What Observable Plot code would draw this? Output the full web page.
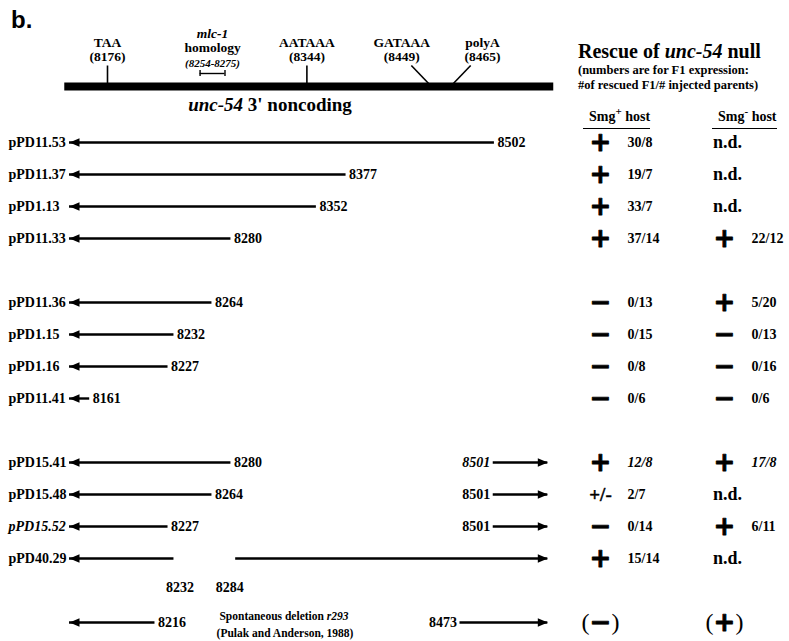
<!DOCTYPE html>
<html><head><meta charset="utf-8">
<script src="https://cdn.jsdelivr.net/npm/d3@7"></script>
<script src="https://cdn.jsdelivr.net/npm/@observablehq/plot@0.6"></script>
<style>
body{margin:0;background:#fff;}
#wrap{position:relative;width:789px;height:641px;overflow:hidden;font-family:"Liberation Serif","Times New Roman",serif;font-weight:bold;color:#000;}
.abs{position:absolute;white-space:nowrap;line-height:1;}
#wrap svg{position:absolute;}
.ul{border-bottom:1.3px solid #000;padding-bottom:4px;}
</style></head><body>
<div id="wrap"></div>
<script>
// ---------- data ----------
const siteNames = ["TAA", "AATAAA", "GATAAA", "polyA"];
const sitePositions = [8176, 8344, 8449, 8465];
const siteLabelCenters = [8176, 8344, 8424, 8492];
const siteLineTops = [8176, 8344, 8432, 8482];
const mlcRange = [8254, 8275];
const geneSpan = [8140, 8552];
const arrowLeftTip = 8144;
const arrowRightTip = 8547;

const constructs = ["pPD11.53","pPD11.37","pPD1.13","pPD11.33","pPD11.36","pPD1.15","pPD1.16","pPD11.41","pPD15.41","pPD15.48","pPD15.52","pPD40.29","r293"];
const groups = [1,1,1,1,2,2,2,2,3,3,3,3,4];
const leftArrowEnds = [8502,8377,8352,8280,8264,8232,8227,8161,8280,8264,8227,8232,8216];
const rightArrowStarts = [null,null,null,null,null,null,null,null,8501,8501,8501,8284,8473];
const labelsBelow = ["pPD40.29"];
const italicLabels = ["pPD15.52"];
const italicRightLabels = ["pPD15.41"];
const italicCounts = ["pPD15.41"];

const hosts = ["Smg+", "Smg-"];
const smgPlusResult = ["+","+","+","+","−","−","−","−","+","+/-","−","+","(−)"];
const smgPlusCounts = ["30/8","19/7","33/7","37/14","0/13","0/15","0/8","0/6","12/8","2/7","0/14","15/14",""];
const smgMinusResult = ["n.d.","n.d.","n.d.","+","+","−","−","−","+","n.d.","+","n.d.","(+)"];
const smgMinusCounts = ["","","","22/12","5/20","0/13","0/16","0/6","17/8","","6/11","",""];

// ---------- derived tables ----------
const yDomain = [];
constructs.forEach((c, i) => {
  if (i > 0 && groups[i] !== groups[i - 1]) yDomain.push("gap" + groups[i]);
  yDomain.push(c);
});
const rows = constructs.map((c, i) => ({
  key: c, label: c === "r293" ? "" : c,
  leftEnd: leftArrowEnds[i], rightStart: rightArrowStarts[i],
  below: labelsBelow.includes(c)
}));
const sites = siteNames.map((n, i) => ({name: n, pos: sitePositions[i], lab: siteLabelCenters[i], top: siteLineTops[i]}));
const cells = [];
constructs.forEach((c, i) => {
  cells.push({key: c, host: hosts[0], res: smgPlusResult[i], count: smgPlusCounts[i]});
  cells.push({key: c, host: hosts[1], res: smgMinusResult[i], count: smgMinusCounts[i]});
});
cells.forEach(d => {
  d.paren = d.res.startsWith("(");
  d.sym = d.paren ? d.res.slice(1, -1) : d.res;
});

const xScale = {domain: [8176, 8465], range: [107, 450]};
const headLeft = {draw(ctx) { ctx.moveTo(0, 0); ctx.lineTo(10, -4.2); ctx.lineTo(10, 4.2); ctx.closePath(); }};
const headRight = {draw(ctx) { ctx.moveTo(0, 0); ctx.lineTo(-10, -4.2); ctx.lineTo(-10, 4.2); ctx.closePath(); }};
const baseStyle = {fontFamily: "Liberation Serif", fontWeight: "bold", background: "transparent", overflow: "visible"};
const wrap = document.getElementById("wrap");

// ---------- header plot ----------
const header = Plot.plot({
  width: 560, height: 125, margin: 0,
  x: {...xScale, axis: null},
  y: {domain: [0, 1], range: [86, 65], axis: null},
  style: baseStyle,
  marks: [
    Plot.ruleY([0], {x1: geneSpan[0], x2: geneSpan[1], strokeWidth: 8, stroke: "black"}),
    Plot.link(sites, {x1: "top", x2: "pos", y1: 1, y2: 0, stroke: "black", strokeWidth: 1.6}),
    Plot.text(sites, {x: "lab", y: 1, text: "name", lineAnchor: "bottom", dy: -19, fontSize: 13.5, fontWeight: "bold", fill: "black"}),
    Plot.text(sites, {x: "lab", y: 1, text: d => "(" + d.pos + ")", lineAnchor: "bottom", dy: -5, fontSize: 13.5, fontWeight: "bold", fill: "black"}),
    Plot.text([mlcRange], {x: d => (d[0] + d[1]) / 2, y: 1, text: () => "mlc-1", lineAnchor: "bottom", dy: -28, fontSize: 13.5, fontStyle: "italic", fontWeight: "bold", fill: "black"}),
    Plot.text([mlcRange], {x: d => (d[0] + d[1]) / 2, y: 1, text: () => "homology", lineAnchor: "bottom", dy: -14, fontSize: 13.5, fontWeight: "bold", fill: "black"}),
    Plot.text([mlcRange], {x: d => (d[0] + d[1]) / 2, y: 1, text: d => "(" + d[0] + "-" + d[1] + ")", lineAnchor: "bottom", dy: 1, fontSize: 11, fontStyle: "italic", fontWeight: "bold", fill: "black"}),
    Plot.ruleY([mlcRange], {x1: d => d[0], x2: d => d[1], y: 1, dy: 8, stroke: "black", strokeWidth: 1.4}),
    Plot.ruleX(mlcRange, {x: d => d, y1: 1, y2: 1, dy: 8, insetTop: -3, insetBottom: -3, stroke: "black", strokeWidth: 1.4})
  ]
});
header.style.left = "0px"; header.style.top = "0px";
wrap.appendChild(header);

// ---------- construct rows plot ----------
const rowTop = 125;
const yScale = {type: "point", domain: yDomain, range: [137 - rowTop, 627 - rowTop], padding: 0, axis: null};
const withRight = rows.filter(d => d.rightStart != null);
const diagram = Plot.plot({
  width: 560, height: 516, margin: 0,
  x: {...xScale, axis: null},
  y: yScale,
  style: baseStyle,
  marks: [
    Plot.ruleY(rows, {y: "key", x1: arrowLeftTip, x2: "leftEnd", stroke: "black", strokeWidth: 2.4}),
    Plot.dot(rows, {y: "key", x: arrowLeftTip, symbol: headLeft, fill: "black", stroke: "none"}),
    Plot.ruleY(withRight, {y: "key", x1: "rightStart", x2: arrowRightTip, stroke: "black", strokeWidth: 2.4}),
    Plot.dot(withRight, {y: "key", x: arrowRightTip, symbol: headRight, fill: "black", stroke: "none"}),
    // construct names
    Plot.text(rows.filter(d => d.label && !italicLabels.includes(d.key)), {y: "key", text: "label", frameAnchor: "left", textAnchor: "start", dx: 8, fontSize: 14, fontWeight: "bold", fill: "black"}),
    Plot.text(rows.filter(d => italicLabels.includes(d.key)), {y: "key", text: "label", frameAnchor: "left", textAnchor: "start", dx: 8, fontSize: 14, fontWeight: "bold", fontStyle: "italic", fill: "black"}),
    // end labels
    Plot.text(rows.filter(d => !d.below), {y: "key", x: "leftEnd", text: d => String(d.leftEnd), textAnchor: "start", dx: 3, fontSize: 14, fontWeight: "bold", fill: "black"}),
    Plot.text(rows.filter(d => d.below), {y: "key", x: "leftEnd", text: d => String(d.leftEnd), textAnchor: "middle", dx: 6, dy: 29, fontSize: 14, fontWeight: "bold", fill: "black"}),
    Plot.text(withRight.filter(d => !d.below && !italicRightLabels.includes(d.key)), {y: "key", x: "rightStart", text: d => String(d.rightStart), textAnchor: "end", dx: -3, fontSize: 14, fontWeight: "bold", fill: "black"}),
    Plot.text(withRight.filter(d => italicRightLabels.includes(d.key)), {y: "key", x: "rightStart", text: d => String(d.rightStart), textAnchor: "end", dx: -3, fontSize: 14, fontWeight: "bold", fontStyle: "italic", fill: "black"}),
    Plot.text(withRight.filter(d => d.below), {y: "key", x: "rightStart", text: d => String(d.rightStart), textAnchor: "middle", dx: -6, dy: 29, fontSize: 14, fontWeight: "bold", fill: "black"})
  ]
});
diagram.style.left = "0px"; diagram.style.top = rowTop + "px";
wrap.appendChild(diagram);

// ---------- results table plot ----------
const tableLeft = 560;
const symCells = cells.filter(d => d.sym === "+" || d.sym === "−");
const table = Plot.plot({
  width: 229, height: 516, margin: 0,
  x: {type: "point", domain: hosts, range: [600 - tableLeft, 724 - tableLeft], padding: 0, axis: null},
  y: yScale,
  style: baseStyle,
  marks: [
    Plot.text(symCells, {x: "host", y: "key", text: "sym", fontFamily: "DejaVu Sans", fontWeight: "bold", fontSize: 26, fill: "black", stroke: "black", strokeWidth: 0.8}),
    Plot.text(cells.filter(d => d.paren), {x: "host", y: "key", text: () => "(", dx: -15, fontSize: 24, fontWeight: "normal", fill: "black"}),
    Plot.text(cells.filter(d => d.paren), {x: "host", y: "key", text: () => ")", dx: 15, fontSize: 24, fontWeight: "normal", fill: "black"}),
    Plot.text(cells.filter(d => d.sym === "+/-"), {x: "host", y: "key", text: "sym", fontSize: 19, fontWeight: "bold", fill: "black", stroke: "black", strokeWidth: 0.4}),
    Plot.text(cells.filter(d => d.sym === "n.d."), {x: "host", y: "key", text: "sym", dx: 3, fontSize: 18, fontWeight: "bold", fill: "black"}),
    Plot.text(cells.filter(d => d.count && !italicCounts.includes(d.key)), {x: "host", y: "key", text: "count", textAnchor: "start", dx: 27, fontSize: 14, fontWeight: "bold", fill: "black"}),
    Plot.text(cells.filter(d => d.count && italicCounts.includes(d.key)), {x: "host", y: "key", text: "count", textAnchor: "start", dx: 27, fontSize: 14, fontWeight: "bold", fontStyle: "italic", fill: "black"})
  ]
});
table.style.left = tableLeft + "px"; table.style.top = rowTop + "px";
wrap.appendChild(table);

// ---------- html text ----------
function addText(html, left, baseline, size, extra) {
  const el = document.createElement("div");
  el.className = "abs";
  el.innerHTML = html;
  el.style.fontSize = size + "px";
  el.style.top = (baseline - 0.84 * size) + "px";
  el.style.left = left + "px";
  if (extra) Object.assign(el.style, extra);
  wrap.appendChild(el);
  return el;
}
addText("b.", 11, 28, 24, {fontFamily: "'Liberation Sans', Arial, sans-serif"});
addText("<i>unc-54</i> 3' noncoding", 270, 111, 19, {transform: "translateX(-50%)"});
addText("Rescue of <i>unc-54</i> null", 578, 58, 20);
addText("(numbers are for F1 expression:", 578, 74, 12.5);
addText("#of rescued F1/# injected parents)", 578, 89, 12.5);
addText("<span class='ul' style='display:inline-block;padding-left:6px'>Smg<sup style='font-size:11px;vertical-align:6px'>+</sup> host</span>", 583, 118, 14);
addText("<span class='ul' style='display:inline-block;padding-left:6px'>Smg<sup style='font-size:11px;vertical-align:6px'>-</sup> host</span>", 712, 118, 14);
addText("Spontaneous deletion <i>r293</i>", 284, 621, 11.5, {transform: "translateX(-50%)"});
addText("(Pulak and Anderson, 1988)", 285, 638, 11.5, {transform: "translateX(-50%)"});
</script>
</body></html>
